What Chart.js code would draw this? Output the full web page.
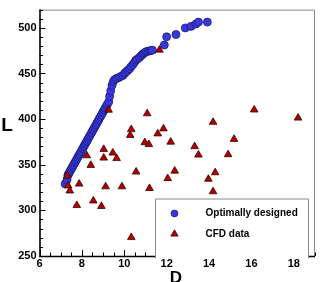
<!DOCTYPE html>
<html><head><meta charset="utf-8">
<script src="https://cdn.jsdelivr.net/npm/chart.js@4/dist/chart.umd.min.js"></script>
<style>html,body{margin:0;padding:0;background:#fff}#w{width:327px;height:282px;position:relative}</style>
</head><body><div id="w"><canvas id="c"></canvas></div>
<script>
// ---- data ----
const optD = [7.21,7.30,7.34,7.37,7.42,7.47,7.52,7.56,7.61,7.66,7.70,7.75,7.80,7.85,7.89,7.94,7.99,8.04,8.09,8.14,8.19,8.24,8.29,8.34,8.39,8.45,8.50,8.55,8.60,8.66,8.71,8.77,8.82,8.88,8.93,8.99,9.05,9.10,9.16,9.21,9.27,9.31,9.36,9.42,9.48,9.54,9.63,9.73,9.83,9.93,10.01,10.09,10.17,10.25,10.32,10.40,10.48,10.55,10.62,10.72,10.80,10.87,10.95,11.03,11.11,11.19,11.26,11.33,11.89,12.00,12.44,12.88,13.15,13.38,13.50,13.92];
const optL = [329,333.5,338.6,339.9,342,344,346.1,347.8,349.9,352,353.6,355.7,357.8,359.9,361.5,363.6,365.7,367.8,369.9,372,374,376.1,378.2,380.3,382.4,384.9,387,389,391.1,393.6,395.7,398.2,400.3,402.8,404.9,407.4,409.9,412,414.5,416.6,419.1,425,431,437,441,443.2,444.5,445.4,446.6,447.8,450,451.8,453.5,455.1,457.5,459.5,462.3,464.5,465.8,467.6,469.5,471.2,472.5,473.9,474.3,474.7,475.2,475.5,481.2,490.2,492.7,499.9,501.6,504.2,506.3,506.3];
const cfdD = [9.26,9.03,9.46,9.03,9.64,8.23,8.42,7.31,7.87,7.35,7.43,9.12,8.54,7.76,8.92,11.08,14.19,10.33,10.28,11.85,11.58,10.97,11.16,12.19,13.32,13.50,10.56,12.38,12.05,13.97,14.29,9.89,11.19,14.19,16.13,18.20,15.18,14.90,10.33,11.66];
const cfdL = [410,367,363,357.5,357,360,349.5,338,329,327,321.5,326,310.5,305.5,304.5,406,396.7,388.7,382.3,389.5,384,374.4,372.3,375,370,360.8,342.2,343.2,335,334.3,341.4,326,324.2,320.6,410.2,401.3,378,361.2,270.4,475.8];
const xTicks = [6,8,10,12,14,16,18];
const yTicks = [250,300,350,400,450,500];
const xTitle = 'D';
const yTitle = 'L';
const seriesNames = ['Optimally designed','CFD data'];

const blueFill = '#3838dc', blueEdge = '#1c1c7a';
const redFill = '#b00000', redEdge = '#3a0000';
const FONT = '"Liberation Sans", Arial, sans-serif';

const decor = {
  id: 'decor',
  afterDraw(chart) {
    const ctx = chart.ctx, a = chart.chartArea;
    const xs = chart.scales.x, ys = chart.scales.y;
    ctx.save();
    // frame: top/right gray
    ctx.strokeStyle = '#8a8a8a'; ctx.lineWidth = 1;
    ctx.beginPath();
    ctx.moveTo(a.left, a.top + 0.5); ctx.lineTo(a.right - 0.5, a.top + 0.5); ctx.lineTo(a.right - 0.5, a.bottom);
    ctx.stroke();
    // minor & major ticks (inward)
    ctx.strokeStyle = '#000'; ctx.lineWidth = 1;
    ctx.beginPath();
    for (let v = xs.min; v <= xs.max + 1e-9; v += 0.5) {
      const px = Math.round(xs.getPixelForValue(v)) + 0.5;
      const major = xTicks.includes(v);
      ctx.moveTo(px, a.bottom); ctx.lineTo(px, a.bottom - (major ? 6 : 3.5));
    }
    for (let v = ys.min; v <= ys.max + 1e-9; v += 10) {
      const py = Math.round(ys.getPixelForValue(v)) + 0.5;
      const major = yTicks.includes(v);
      ctx.moveTo(a.left, py); ctx.lineTo(a.left + (major ? 6 : 3.5), py);
    }
    ctx.stroke();
    // axis lines left/bottom black
    ctx.lineWidth = 1.6;
    ctx.beginPath();
    ctx.moveTo(a.left + 0.5, a.top); ctx.lineTo(a.left + 0.5, a.bottom + 0.5); ctx.lineTo(a.right, a.bottom + 0.5);
    ctx.stroke();
    // axis titles (upright)
    ctx.fillStyle = '#000';
    ctx.font = 'bold 19px ' + FONT;
    ctx.textAlign = 'center'; ctx.textBaseline = 'middle';
    ctx.fillText(yTitle, 7, 126);
    ctx.font = 'bold 17px ' + FONT;
    ctx.textBaseline = 'top';
    ctx.fillText(xTitle, 176, 270);
    // legend box
    const lx = 155, ly = 198.5, lw = 154, lh = 60;
    ctx.fillStyle = '#fff';
    ctx.fillRect(lx, ly, lw, lh);
    ctx.strokeStyle = '#8a8a8a'; ctx.lineWidth = 1;
    ctx.beginPath();
    ctx.moveTo(lx + 0.5, ly + lh); ctx.lineTo(lx + 0.5, ly + 0.5); ctx.lineTo(lx + lw - 0.5, ly + 0.5); ctx.lineTo(lx + lw - 0.5, ly + lh);
    ctx.stroke();
    // legend markers
    ctx.lineWidth = 0.8;
    ctx.fillStyle = blueFill; ctx.strokeStyle = blueEdge;
    ctx.beginPath(); ctx.arc(174.5, 213.5, 3.4, 0, Math.PI * 2); ctx.fill(); ctx.stroke();
    ctx.fillStyle = redFill; ctx.strokeStyle = redEdge;
    Chart.helpers.drawPoint(ctx, {pointStyle: 'triangle', radius: 4.2, borderWidth: 0.8}, 174.5, 234);
    // legend text
    ctx.fillStyle = '#000';
    ctx.font = 'bold 10px ' + FONT;
    ctx.textAlign = 'left'; ctx.textBaseline = 'middle';
    ctx.fillText(seriesNames[0], 205.5, 213.5);
    ctx.fillText(seriesNames[1], 205.5, 234);
    ctx.restore();
  }
};

new Chart(document.getElementById('c'), {
  type: 'scatter',
  data: {
    datasets: [
      {
        label: seriesNames[1],
        data: cfdD.map((d, i) => ({x: d, y: cfdL[i]})),
        pointStyle: 'triangle', pointRadius: 4.4, borderWidth: 0.8,
        backgroundColor: redFill, borderColor: redEdge, order: 0
      },
      {
        label: seriesNames[0],
        data: optD.map((d, i) => ({x: d, y: optL[i]})),
        pointStyle: 'circle', pointRadius: 4, borderWidth: 0.8,
        backgroundColor: blueFill, borderColor: blueEdge, order: 1
      }
    ]
  },
  options: {
    responsive: true, maintainAspectRatio: false, animation: false,
    layout: {padding: {left: 0, right: 12, top: 5, bottom: 0}},
    plugins: {legend: {display: false}, tooltip: {enabled: false}},
    scales: {
      x: {
        type: 'linear', min: 6, max: 19,
        afterBuildTicks: s => { s.ticks = xTicks.map(v => ({value: v})); },
        afterFit: s => { s.height = 26; },
        grid: {display: false, drawTicks: false},
        border: {display: false},
        ticks: {padding: 1, color: '#000', font: {family: FONT, size: 11, weight: 'bold'}, maxRotation: 0}
      },
      y: {
        type: 'linear', min: 250, max: 520,
        afterBuildTicks: s => { s.ticks = yTicks.map(v => ({value: v})); },
        afterFit: s => { s.width = 39.5; },
        grid: {display: false, drawTicks: false},
        border: {display: false},
        ticks: {padding: 3, color: '#000', font: {family: FONT, size: 11, weight: 'bold'}}
      }
    }
  },
  plugins: [decor]
});
</script>
</body></html>
